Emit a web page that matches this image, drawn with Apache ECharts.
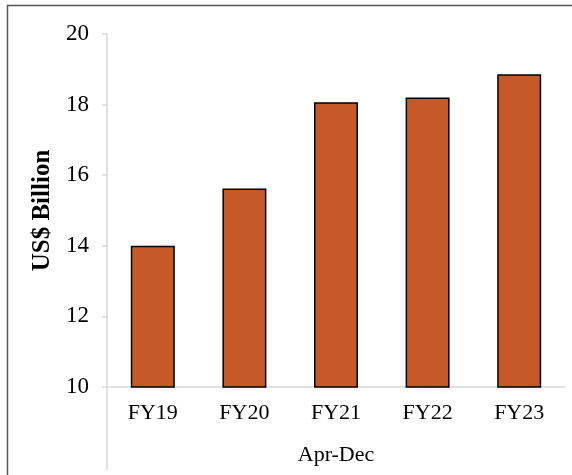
<!DOCTYPE html>
<html>
<head>
<meta charset="utf-8">
<script src="https://cdn.jsdelivr.net/npm/echarts@6/dist/echarts.min.js"></script>
<style>html,body{margin:0;padding:0;background:#fff}#c{width:572px;height:475px}</style>
</head>
<body>
<div id="c"></div>
<script>
const categories = ['FY19', 'FY20', 'FY21', 'FY22', 'FY23'];
const values = [14.0, 15.62, 18.07, 18.2, 18.86];
const yTicks = [10, 12, 14, 16, 18, 20];
const xAxisTitle = 'Apr-Dec';
const yAxisTitle = 'US$ Billion';

const chart = echarts.init(document.getElementById('c'));
const serif = '"Liberation Serif", "Times New Roman", serif';
chart.setOption({
  animation: false,
  backgroundColor: '#fff',
  grid: { left: 107, right: 7, top: 34, bottom: 88 },
  xAxis: {
    type: 'category',
    data: categories,
    name: xAxisTitle,
    nameLocation: 'middle',
    nameGap: 57,
    nameTextStyle: { fontFamily: serif, fontSize: 22, color: '#000' },
    axisLine: { lineStyle: { color: '#d9d9d9', width: 1.5 } },
    axisTick: { show: false },
    axisLabel: { fontFamily: serif, fontSize: 22, color: '#000', margin: 15 }
  },
  yAxis: {
    type: 'value',
    min: yTicks[0],
    max: yTicks[yTicks.length - 1],
    interval: 2,
    name: yAxisTitle,
    nameLocation: 'middle',
    nameGap: 49,
    nameTextStyle: { fontFamily: serif, fontSize: 25, fontWeight: 'bold', color: '#000' },
    axisLine: { show: true, lineStyle: { color: '#d9d9d9', width: 1.5 } },
    axisTick: { show: true, length: 5, lineStyle: { color: '#d9d9d9', width: 1.5 } },
    splitLine: { show: false },
    axisLabel: { fontFamily: serif, fontSize: 23, color: '#000', margin: 18 }
  },
  series: [{
    type: 'bar',
    data: values,
    barWidth: 44,
    itemStyle: { color: '#C55A28', borderColor: '#000', borderWidth: 1.5 }
  }],
  graphic: [
    { type: 'line', shape: { x1: 107, y1: 387, x2: 107, y2: 470 }, style: { stroke: '#d9d9d9', lineWidth: 1.5 }, silent: true },
    { type: 'rect', shape: { x: 7.5, y: 5.5, width: 700, height: 700 }, style: { fill: 'none', stroke: '#555', lineWidth: 1.5 }, silent: true }
  ]
});
</script>
</body>
</html>
